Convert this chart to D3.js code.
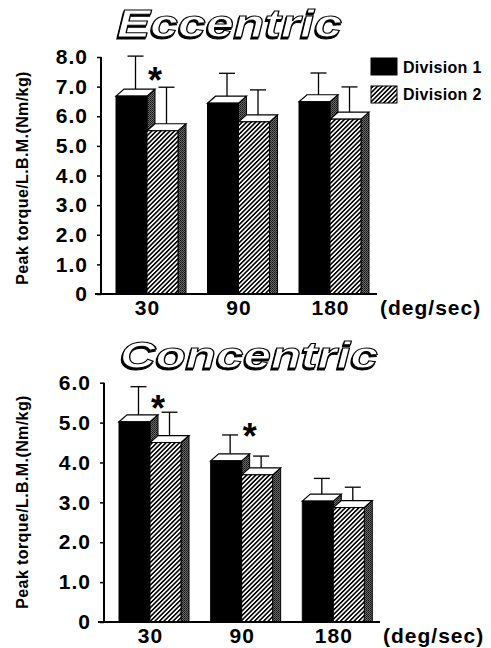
<!DOCTYPE html>
<html>
<head>
<meta charset="utf-8">
<script src="https://cdnjs.cloudflare.com/ajax/libs/d3/7.8.5/d3.min.js"></script>
<style>
  body { margin: 0; background: #fff; }
  svg text { font-family: 'Liberation Sans', Arial, Helvetica, sans-serif; }
</style>
</head>
<body>
<svg id="fig" width="491" height="648"></svg>
<script>
// speeds on the x axis and the two groups
var speeds = ["30", "90", "180"];
var divisions = ["Division 1", "Division 2"];

// eccentric peak torque / LBM (Nm/kg), mean and SD
var eccDiv1 = [6.68, 6.44, 6.49];
var eccDiv1Sd = [1.35, 1.01, 0.97];
var eccDiv2 = [5.51, 5.81, 5.90];
var eccDiv2Sd = [1.47, 1.08, 1.09];
var eccTicks = [0, 1, 2, 3, 4, 5, 6, 7, 8];
var eccStars = [{speed: "30", y: 7.45}];

// concentric
var conDiv1 = [5.02, 4.04, 3.03];
var conDiv1Sd = [0.88, 0.65, 0.57];
var conDiv2 = [4.50, 3.69, 2.87];
var conDiv2Sd = [0.76, 0.47, 0.51];
var conTicks = [0, 1, 2, 3, 4, 5, 6];
var conStars = [{speed: "30", y: 5.54}, {speed: "90", y: 4.84}];

var svg = d3.select("#fig");
svg.append("rect").attr("width", 491).attr("height", 648).attr("fill", "#fff");

// patterns: diagonal hatch for the front of division 2, dark stipple for side faces
var defs = svg.append("defs");
var hatch = defs.append("pattern")
    .attr("id", "hatch")
    .attr("patternUnits", "userSpaceOnUse")
    .attr("width", 3.2).attr("height", 3.2)
    .attr("patternTransform", "rotate(45)");
hatch.append("rect").attr("width", 3.2).attr("height", 3.2).attr("fill", "#fff");
hatch.append("line").attr("x1", 1.6).attr("y1", 0).attr("x2", 1.6).attr("y2", 3.2)
    .attr("stroke", "#000").attr("stroke-width", 1.6);

var side = defs.append("pattern")
    .attr("id", "side")
    .attr("patternUnits", "userSpaceOnUse")
    .attr("width", 2).attr("height", 2);
side.append("rect").attr("width", 2).attr("height", 2).attr("fill", "#6a6a6a");
side.append("rect").attr("width", 1).attr("height", 1).attr("fill", "#111");
side.append("rect").attr("x", 1).attr("y", 1).attr("width", 1).attr("height", 1).attr("fill", "#2a2a2a");

// drop shadow for the outlined titles
var shadow = defs.append("filter").attr("id", "shadow")
    .attr("x", "-10%").attr("y", "-20%").attr("width", "120%").attr("height", "150%");
shadow.append("feOffset").attr("in", "SourceAlpha").attr("dx", -1.5).attr("dy", 1.5).attr("result", "off");
shadow.append("feFlood").attr("flood-color", "#000").attr("result", "blk");
shadow.append("feComposite").attr("in", "blk").attr("in2", "off").attr("operator", "in").attr("result", "sh");
var merge = shadow.append("feMerge");
merge.append("feMergeNode").attr("in", "sh");
merge.append("feMergeNode").attr("in", "SourceGraphic");

var depthX = 8, depthY = 7, barW = 31;

function drawPanel(o) {
  var g = svg.append("g");
  var y = d3.scaleLinear().domain([0, d3.max(o.ticks)]).range([o.y0, o.yTop]);
  var x = d3.scalePoint().domain(speeds).range(o.xRange);
  var sub = d3.scaleBand().domain(divisions).range([-barW, barW]);

  // title, outlined with a drop shadow
  g.append("text")
    .attr("x", o.titleX).attr("y", o.titleY)
    .attr("textLength", o.titleW).attr("lengthAdjust", "spacingAndGlyphs")
    .attr("font-size", o.titleSize).attr("font-weight", "bold").attr("font-style", "italic")
    .attr("fill", "#fff").attr("stroke", "#000").attr("stroke-width", 1)
    .attr("filter", "url(#shadow)")
    .text(o.title);

  var rows = [];
  speeds.forEach(function (s, i) {
    rows.push({speed: s, div: divisions[0], v: o.m1[i], sd: o.s1[i]});
    rows.push({speed: s, div: divisions[1], v: o.m2[i], sd: o.s2[i]});
  });

  // error bars (behind the bars, start at middle of top face)
  rows.forEach(function (d) {
    var ex = x(d.speed) + sub(d.div) + barW / 2 + depthX / 2;
    g.append("line").attr("x1", ex).attr("x2", ex)
      .attr("y1", y(d.v) - depthY / 2).attr("y2", y(d.v + d.sd))
      .attr("stroke", "#000").attr("stroke-width", 1.3);
    g.append("line").attr("x1", ex - 8).attr("x2", ex + 8)
      .attr("y1", y(d.v + d.sd)).attr("y2", y(d.v + d.sd))
      .attr("stroke", "#000").attr("stroke-width", 1.3);
  });

  // 3D bars
  rows.forEach(function (d) {
    var bx = x(d.speed) + sub(d.div), yv = y(d.v), y0 = y(0);
    g.append("path")
      .attr("d", "M" + (bx + barW) + "," + yv + "L" + (bx + barW + depthX) + "," + (yv - depthY) +
        "L" + (bx + barW + depthX) + "," + y0 + "L" + (bx + barW) + "," + y0 + "Z")
      .attr("fill", "url(#side)").attr("stroke", "#000").attr("stroke-width", 1);
    g.append("path")
      .attr("d", "M" + bx + "," + yv + "L" + (bx + depthX) + "," + (yv - depthY) +
        "L" + (bx + barW + depthX) + "," + (yv - depthY) + "L" + (bx + barW) + "," + yv + "Z")
      .attr("fill", "#fff").attr("stroke", "#000").attr("stroke-width", 1.2);
    g.append("rect")
      .attr("x", bx).attr("y", yv).attr("width", barW).attr("height", y0 - yv)
      .attr("fill", d.div == divisions[0] ? "#000" : "url(#hatch)")
      .attr("stroke", "#000").attr("stroke-width", 1);
  });

  // axes
  var yAxis = g.append("g").attr("transform", "translate(" + o.axisX + ",0)")
    .call(d3.axisLeft(y).tickValues(o.ticks).tickSize(4).tickPadding(9)
      .tickFormat(function (d) { return d == 0 ? "0" : d3.format(".1f")(d); }));
  yAxis.select(".domain").attr("d", "M0," + (y(0) + 1) + "V" + y(d3.max(o.ticks)))
    .attr("stroke-width", 2);
  yAxis.selectAll(".tick line").attr("stroke-width", 1.5);
  yAxis.selectAll("text").attr("font-size", 21).attr("font-weight", "bold")
    .attr("letter-spacing", 1).attr("font-family", "'Liberation Sans', Arial, sans-serif")
    .attr("fill", "#000");

  var xAxis = g.append("g").attr("transform", "translate(0," + o.y0 + ")")
    .call(d3.axisBottom(x).tickSize(0).tickPadding(6));
  xAxis.select(".domain").attr("d", "M" + (o.axisX - 6) + ",0H" + o.xEnd).attr("stroke-width", 2);
  xAxis.selectAll("text").attr("font-size", 21).attr("font-weight", "bold")
    .attr("letter-spacing", 1).attr("font-family", "'Liberation Sans', Arial, sans-serif")
    .attr("fill", "#000");

  g.append("text").attr("x", o.xEnd + 3).attr("y", o.y0 + 21)
    .attr("font-size", 21).attr("font-weight", "bold").attr("letter-spacing", 1)
    .text("(deg/sec)");

  g.append("text")
    .attr("transform", "translate(" + 28 + "," + o.labelY + ") rotate(-90)")
    .attr("text-anchor", "middle").attr("font-size", 16).attr("font-weight", "bold")
    .attr("letter-spacing", 0.4)
    .text("Peak torque/L.B.M.(Nm/kg)");

  // significance marks
  o.stars.forEach(function (s) {
    g.append("text").attr("x", x(s.speed) + 8).attr("y", y(s.y) + 20)
      .attr("text-anchor", "middle").attr("font-size", 36).attr("font-weight", "bold")
      .text("*");
  });
}

drawPanel({
  title: "Eccentric", titleX: 117, titleY: 37, titleW: 225, titleSize: 38,
  m1: eccDiv1, s1: eccDiv1Sd, m2: eccDiv2, s2: eccDiv2Sd, ticks: eccTicks, stars: eccStars,
  y0: 294, yTop: 57, axisX: 101, xRange: [147, 330], xEnd: 377, labelY: 178
});

drawPanel({
  title: "Concentric", titleX: 120, titleY: 368, titleW: 258, titleSize: 36,
  m1: conDiv1, s1: conDiv1Sd, m2: conDiv2, s2: conDiv2Sd, ticks: conTicks, stars: conStars,
  y0: 622, yTop: 382.7, axisX: 104, xRange: [150, 333.3], xEnd: 380, labelY: 502
});

// legend
var legend = svg.append("g");
divisions.forEach(function (d, i) {
  legend.append("rect").attr("x", 371).attr("y", 58 + i * 28).attr("width", 26).attr("height", 17)
    .attr("fill", i == 0 ? "#000" : "url(#hatch)").attr("stroke", "#000").attr("stroke-width", 1);
  legend.append("text").attr("x", 403).attr("y", 73 + i * 27)
    .attr("font-size", 16).attr("font-weight", "bold").attr("letter-spacing", 0.3).text(d);
});
</script>
</body>
</html>
